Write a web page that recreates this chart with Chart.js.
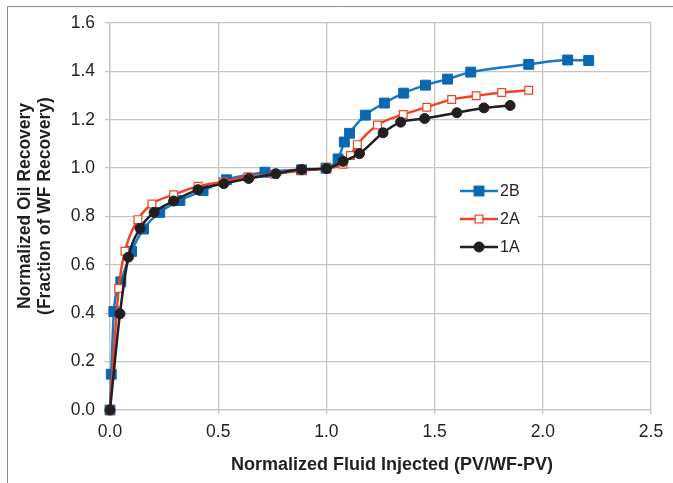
<!DOCTYPE html>
<html>
<head>
<meta charset="utf-8">
<script src="https://cdn.jsdelivr.net/npm/chart.js@4/dist/chart.umd.min.js"></script>
<style>
  html,body{margin:0;padding:0;background:#fff;}
  #wrap{width:673px;height:483px;position:relative;}
</style>
</head>
<body>
<div id="wrap"><canvas id="myGraph" width="673" height="483"></canvas></div>
<script>
// series values
const x2B=[0,0.006,0.018,0.05,0.10,0.155,0.23,0.323,0.43,0.538,0.716,0.885,0.998,1.054,1.083,1.107,1.18,1.268,1.357,1.458,1.56,1.667,1.935,2.115,2.212]
const y2B=[0,0.148,0.407,0.53,0.656,0.748,0.817,0.866,0.907,0.952,0.983,0.993,1.0,1.038,1.108,1.144,1.219,1.269,1.31,1.343,1.368,1.397,1.429,1.447,1.445]

const x2A=[0,0.04,0.069,0.129,0.194,0.294,0.407,0.522,0.637,0.76,0.885,1.0,1.077,1.111,1.143,1.236,1.355,1.464,1.579,1.692,1.81,1.935]
const y2A=[0,0.502,0.656,0.787,0.852,0.89,0.925,0.944,0.964,0.975,0.99,1.0,1.016,1.052,1.097,1.178,1.222,1.252,1.284,1.299,1.313,1.322]

const x1A=[0,0.046,0.085,0.139,0.204,0.294,0.407,0.526,0.641,0.766,0.885,1.0,1.077,1.153,1.262,1.343,1.454,1.603,1.728,1.849]
const y1A=[0,0.398,0.632,0.751,0.817,0.864,0.911,0.936,0.957,0.977,0.994,0.998,1.028,1.06,1.146,1.19,1.205,1.229,1.249,1.259]

const seriesNames=['2B','2A','1A']
const xTitle='Normalized Fluid Injected (PV/WF-PV)'
const yTitle=['Normalized Oil Recovery','(Fraction of WF Recovery)']

const font='"Liberation Sans", Arial, sans-serif'
const gridColor='#c4c4c4'

function toPoints(xs,ys){
    let pts=[]
    for(let i=0;i<xs.length;i++){
        pts.push({x:xs[i],y:ys[i]})
    }
    return pts
}

// grey frame round the figure
const framePlugin={
    id:'frame',
    beforeDraw(chart){
        const ctx=chart.ctx
        ctx.save()
        ctx.strokeStyle='#8a8a8a'
        ctx.lineWidth=1
        ctx.beginPath()
        ctx.moveTo(7.5,483)
        ctx.lineTo(7.5,6.5)
        ctx.lineTo(673,6.5)
        ctx.stroke()
        ctx.restore()
    }
}

// axis titles
const titlePlugin={
    id:'titles',
    afterDraw(chart){
        const ctx=chart.ctx
        ctx.save()
        ctx.fillStyle='#231f20'
        ctx.font='bold 18px '+font
        ctx.textAlign='center'
        ctx.textBaseline='middle'
        ctx.fillText(xTitle,392,465)
        ctx.font='bold 17.5px '+font
        ctx.translate(0,206)
        ctx.rotate(-Math.PI/2)
        ctx.fillText(yTitle[0],0,25)
        ctx.fillText(yTitle[1],0,45)
        ctx.restore()
    }
}

// legend inside the plot
const legendPlugin={
    id:'boxLegend',
    afterDatasetsDraw(chart){
        const ctx=chart.ctx
        ctx.save()
        ctx.fillStyle='#fff'
        ctx.fillRect(437,176,101,84)
        // the 1.5 gridline shows through the legend box
        const xs=chart.scales.x.getPixelForValue(1.5)
        ctx.strokeStyle=gridColor
        ctx.lineWidth=1.3
        ctx.beginPath()
        ctx.moveTo(xs,176)
        ctx.lineTo(xs,260)
        ctx.stroke()
        chart.data.datasets.forEach((ds,i)=>{
            const y=191+i*28
            ctx.strokeStyle=ds.borderColor
            ctx.lineWidth=2.5
            ctx.beginPath()
            ctx.moveTo(460,y)
            ctx.lineTo(498,y)
            ctx.stroke()
            ctx.fillStyle=ds.pointBackgroundColor
            ctx.strokeStyle=ds.pointBorderColor
            ctx.lineWidth=ds.pointBorderWidth
            if(ds.pointStyle==='circle'){
                ctx.beginPath()
                ctx.arc(479,y,5,0,Math.PI*2)
                ctx.fill()
                ctx.stroke()
            }else{
                const s=ds.pointRadius*Math.SQRT1_2
                ctx.fillRect(479-s,y-s,2*s,2*s)
                ctx.strokeRect(479-s,y-s,2*s,2*s)
            }
            ctx.fillStyle='#231f20'
            ctx.font='16px '+font
            ctx.textAlign='left'
            ctx.textBaseline='middle'
            ctx.fillText(ds.label,500,y+1)
        })
        ctx.restore()
    }
}

let myGraph=document.getElementById('myGraph').getContext('2d')
let chart=new Chart(myGraph,{
    type:'line',
    data:{
        datasets:[{
            label:seriesNames[0],
            data:toPoints(x2B,y2B),
            borderColor:'#1679c2',
            borderWidth:2.5,
            pointStyle:'rect',
            pointRadius:7,
            pointBackgroundColor:'#0a68b3',
            pointBorderColor:'#0a68b3',
            pointBorderWidth:1,
            cubicInterpolationMode:'monotone',
            order:3,
            clip:false
        },{
            label:seriesNames[1],
            data:toPoints(x2A,y2A),
            borderColor:'#ef4426',
            borderWidth:2.5,
            pointStyle:'rect',
            pointRadius:5.5,
            pointBackgroundColor:'#ffffff',
            pointBorderColor:'#ef4426',
            pointBorderWidth:1.2,
            cubicInterpolationMode:'monotone',
            order:2,
            clip:false
        },{
            label:seriesNames[2],
            data:toPoints(x1A,y1A),
            borderColor:'#231f20',
            borderWidth:2.5,
            pointStyle:'circle',
            pointRadius:5,
            pointBackgroundColor:'#231f20',
            pointBorderColor:'#231f20',
            pointBorderWidth:1,
            cubicInterpolationMode:'monotone',
            order:1,
            clip:false
        }]
    },
    plugins:[framePlugin,titlePlugin,legendPlugin],
    options:{
        responsive:false,
        animation:false,
        layout:{padding:{top:23,right:22,left:0,bottom:0}},
        plugins:{
            legend:{display:false},
            tooltip:{enabled:false}
        },
        scales:{
            x:{
                type:'linear',
                min:0,
                max:2.5,
                afterFit(scale){scale.height=73},
                grid:{color:gridColor,lineWidth:1.3,tickLength:4},
                border:{color:gridColor,width:1.3},
                ticks:{
                    stepSize:0.5,
                    padding:8,
                    color:'#231f20',
                    font:{family:font,size:17.5},
                    callback:v=>v.toFixed(1)
                }
            },
            y:{
                min:0,
                max:1.6,
                afterFit(scale){scale.width=110},
                grid:{color:gridColor,lineWidth:1.3,tickLength:5},
                border:{color:gridColor,width:1.3},
                ticks:{
                    stepSize:0.2,
                    padding:10,
                    color:'#231f20',
                    font:{family:font,size:17.5},
                    callback:v=>v.toFixed(1)
                }
            }
        }
    }
})
</script>
</body>
</html>
